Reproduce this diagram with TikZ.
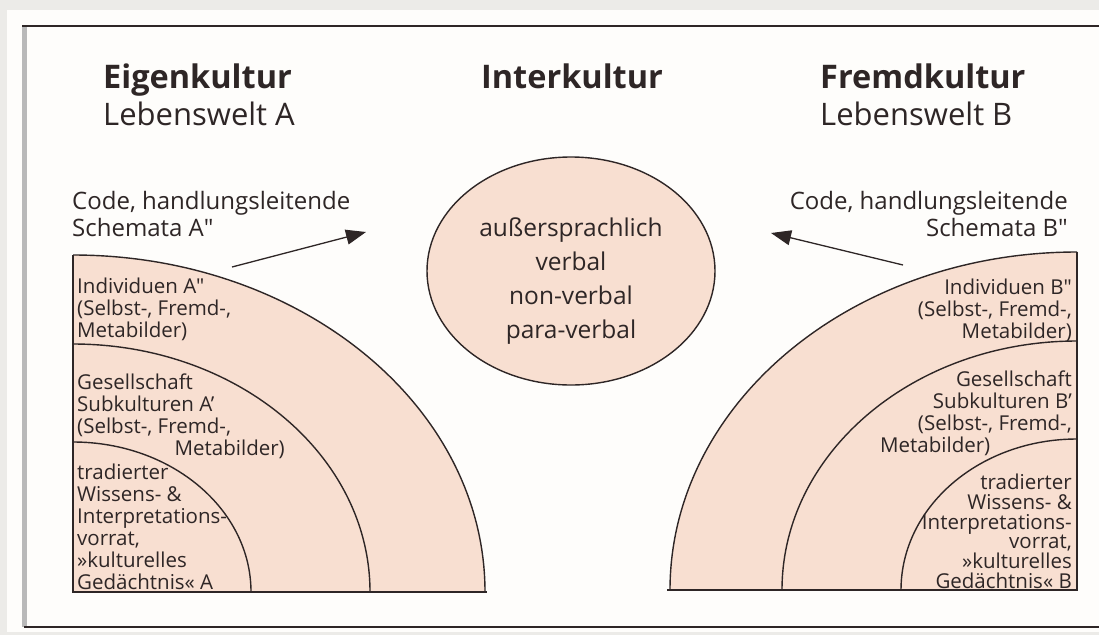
\documentclass[tikz,border=0pt]{standalone}
\usepackage{fontspec}
\setmainfont{Open Sans}
\usetikzlibrary{arrows.meta,shapes.geometric}
\definecolor{ink}{HTML}{2E2626}
\definecolor{peach}{HTML}{F8DFD1}
\definecolor{paper}{HTML}{FEFDFB}
\definecolor{margin}{HTML}{ECEBE8}
\newcommand{\dq}{\textquotedbl}
\begin{document}
\begin{tikzpicture}[x=1pt,y=-1pt,
  txt/.style={inner sep=0pt, text=ink},
  head/.style={txt, font=\fontsize{31}{36}\selectfont},
  headb/.style={txt, font=\fontsize{32.5}{36}\selectfont\bfseries},
  codetxt/.style={txt, font=\fontsize{24}{27}\selectfont},
  small/.style={txt, font=\fontsize{20.5}{22}\selectfont},
  ring/.style={draw=ink, line width=1.4pt},
  pointer/.style={draw=ink, line width=1.3pt, -{Triangle[length=20pt,width=15pt]}}]
\useasboundingbox (0,0) rectangle (1099,635);
% page and frame
\fill[margin] (0,0) rectangle (1099,635);
\fill[paper] (7,10) rectangle (1099,632);
\draw[gray!55, line width=5pt] (24,27) -- (24,627);
\draw[ink, line width=1.8pt] (22,26) -- (1099,26);
\draw[ink, line width=1.5pt] (24,627) -- (1099,627);

% headings
\node[headb, anchor=base west] (eigen) at (103,88) {Eigenkultur};
\node[head, anchor=base west] (lwa) at (103,125) {Lebenswelt A};
\node[headb, anchor=base] (inter) at (572,88) {Interkultur};
\node[headb, anchor=base west] (fremd) at (820,88) {Fremdkultur};
\node[head, anchor=base west] (lwb) at (820,125) {Lebenswelt B};

% code labels
\node[codetxt, anchor=base west] (codeA1) at (72,209) {Code, handlungsleitende};
\node[codetxt, anchor=base west] (codeA2) at (72,236) {Schemata A\dq};
\node[codetxt, anchor=base east] (codeB1) at (1068,209) {Code, handlungsleitende};
\node[codetxt, anchor=base east] (codeB2) at (1068,236) {Schemata B\dq};

% left quarter: own culture
\fill[peach] (73,592) -- (73,255) arc[start angle=-90, end angle=0, x radius=412, y radius=337] -- cycle;
\draw[ring] (73,255) arc[start angle=-90, end angle=0, x radius=412, y radius=337];
\draw[ring] (73,344) arc[start angle=-90, end angle=0, x radius=297, y radius=248];
\draw[ring] (73,442) arc[start angle=-90, end angle=0, x radius=178, y radius=150];
\draw[ring] (73,255) -- (73,592) -- (487,592);

% right quarter: foreign culture
\fill[peach] (1077,590) -- (1077,252) arc[start angle=-90, end angle=-180, x radius=407, y radius=338] -- cycle;
\draw[ring] (1077,252) arc[start angle=-90, end angle=-180, x radius=407, y radius=338];
\draw[ring] (1077,341) arc[start angle=-90, end angle=-180, x radius=295, y radius=249];
\draw[ring] (1077,439) arc[start angle=-90, end angle=-180, x radius=176, y radius=151];
\draw[ring] (1077,252) -- (1077,590) -- (667,590);

% intercultural ellipse
\node[ellipse, draw=ink, line width=1.4pt, fill=peach, minimum width=288pt, minimum height=228pt] (mid) at (571,271) {};
\foreach \t/\yy [count=\i] in {außersprachlich/236, verbal/270, non-verbal/304, para-verbal/338}
  \node[txt, font=\fontsize{24.5}{30}\selectfont, anchor=base] (m\i) at (571,\yy) {\t};

% left texts
\foreach \t/\yy [count=\i] in {Individuen A\dq/293, {(Selbst-, Fremd-,}/315, Metabilder)/337,
    Gesellschaft/389, Subkulturen A'/411, {(Selbst-, Fremd-,}/433,
    tradierter/479, Wissens- \&/501, Interpretations-/523, {vorrat,}/545, »kulturelles/567, Gedächtnis« A/589}
  \node[small, anchor=base west] (la\i) at (77,\yy) {\t};
\node[small, anchor=base east] (la13) at (285,455) {Metabilder)};

% right texts
\foreach \t/\yy [count=\i] in {Individuen B\dq/294, {(Selbst-, Fremd-,}/316, Metabilder)/338,
    Gesellschaft/386, Subkulturen B'/408, {(Selbst-, Fremd-,}/430,
    tradierter/489, Wissens- \&/509, Interpretations-/529, {vorrat,}/548, »kulturelles/568, Gedächtnis« B/588}
  \node[small, anchor=base east] (rb\i) at (1072,\yy) {\t};
\node[small, anchor=base west] (rb13) at (880,452) {Metabilder)};

% arrows towards the intercultural field
\coordinate (a0) at (232,267);
\coordinate (a1) at (366,232);
\coordinate (b0) at (903,265);
\coordinate (b1) at (771,233);
\draw[pointer] (a0) -- (a1);
\draw[pointer] (b0) -- (b1);
\end{tikzpicture}
\end{document}
